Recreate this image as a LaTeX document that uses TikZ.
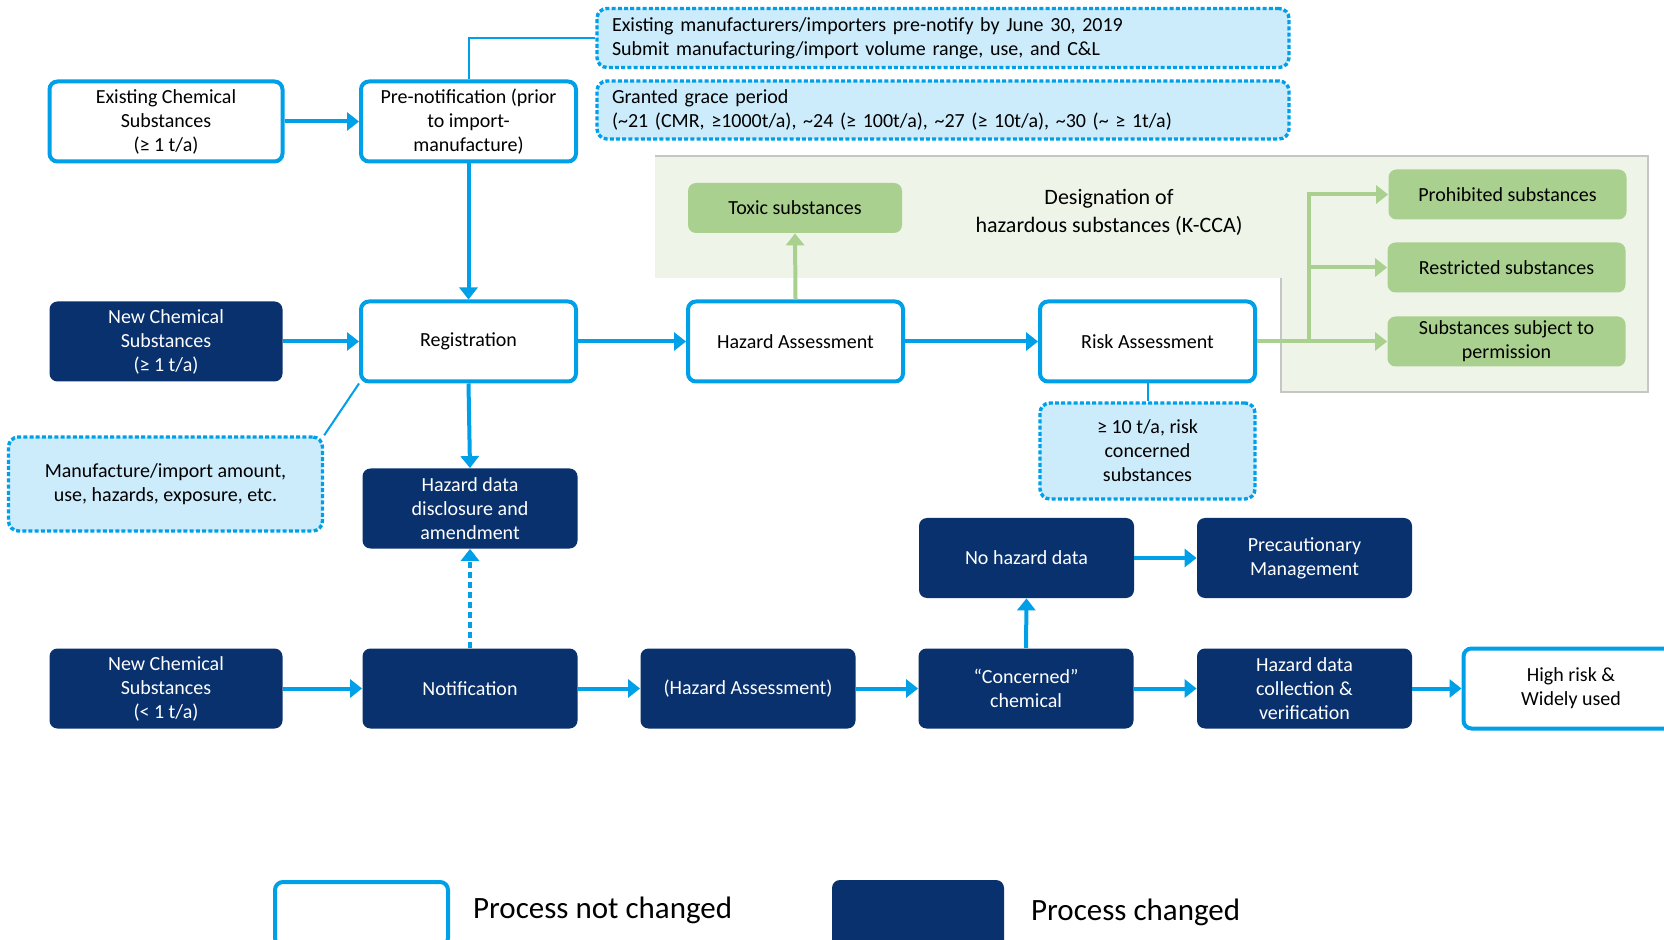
\documentclass[tikz,border=0pt]{standalone}
\usepackage{fontspec}
\setmainfont{Carlito}
\usetikzlibrary{arrows.meta}
\definecolor{cblue}{RGB}{0,160,233}
\definecolor{cnavy}{RGB}{8,49,110}
\definecolor{cnote}{RGB}{204,235,251}
\definecolor{cgreen}{RGB}{169,208,142}
\definecolor{cpale}{RGB}{238,245,232}
\begin{document}
\begin{tikzpicture}[x=0.5pt, y=-0.5pt,
    box/.style={align=center, rounded corners=4pt, minimum width=107.5pt, minimum height=40pt, inner sep=2pt},
    plain/.style={box, draw=cblue, line width=2pt, fill=white},
    dark/.style={box, fill=cnavy, text=white},
    gbox/.style={box, fill=cgreen, minimum width=119pt, minimum height=25pt},
    note/.style={draw=cblue, fill=cnote, line width=1.7pt, dash pattern=on 2pt off 1.1pt, rounded corners=5pt, align=center},
    arr/.style={draw=cblue, line width=2pt, -{Triangle[length=6pt, width=9pt]}},
    garr/.style={draw=cgreen, line width=2pt, -{Triangle[length=6pt, width=9pt]}},
    thin/.style={draw=cblue, line width=1pt}]
  \useasboundingbox (0,0) rectangle (1664,940);
  \fill[cpale] (655,156) -- (1648,156) -- (1648,392) -- (1281,392) -- (1281,278) -- (655,278) -- cycle;
  \draw[gray!45, line width=0.6pt] (655,156) -- (1648,156) -- (1648,392) -- (1281,392) -- (1281,278);

  \node[plain, minimum width=116.5pt] (ex) at (166,121.5) {Existing Chemical\\Substances\\(≥ 1 t/a)};
  \node[plain] (pre) at (468.5,121.5) {Pre-notification (prior\\to import-\\manufacture)};
  \node[note, align=left, text width=331pt, inner xsep=7.5pt, minimum height=29.5pt] (n1) at (943,38)
    {Existing manufacturers/importers pre-notify by June 30, 2019\\Submit manufacturing/import volume range, use, and C\&L};
  \node[note, align=left, text width=331pt, inner xsep=7.5pt, minimum height=29pt] (n2) at (943,110)
    {Granted grace period\\(\textasciitilde21 (CMR, ≥1000t/a), \textasciitilde24 (≥ 100t/a), \textasciitilde27 (≥ 10t/a), \textasciitilde30 (\textasciitilde\ ≥ 1t/a)};

  \node[gbox, minimum width=107pt] (tox) at (795,208) {Toxic substances};
  \node[font=\fontsize{11}{14}\selectfont, align=center] (des) at (1109,212) {Designation of\\hazardous substances (K-CCA)};
  \node[gbox] (pro) at (1507.5,194.5) {Prohibited substances};
  \node[gbox] (res) at (1506.5,267.5) {Restricted substances};
  \node[gbox] (per) at (1506.5,341.5) {Substances subject to\\permission};

  \node[dark, minimum width=116.5pt] (nc1) at (166,341.5) {New Chemical\\Substances\\(≥ 1 t/a)};
  \node[plain] (reg) at (468.5,341.5) {Registration};
  \node[plain] (ha) at (795.5,341.5) {Hazard Assessment};
  \node[plain] (ra) at (1147.5,341.5) {Risk Assessment};
  \node[note, minimum width=157pt, minimum height=47pt] (n3) at (165.5,484) {Manufacture/import amount,\\use, hazards, exposure, etc.};
  \node[dark] (dis) at (470,508.5) {Hazard data\\disclosure and\\amendment};
  \node[note, minimum width=107.5pt, minimum height=48pt] (n4) at (1147.5,451) {≥ 10 t/a, risk\\concerned\\substances};

  \node[dark] (nhd) at (1026.5,558) {No hazard data};
  \node[dark] (pm) at (1304.5,558) {Precautionary\\Management};
  \node[dark, minimum width=116.5pt] (nc2) at (166,688.5) {New Chemical\\Substances\\(< 1 t/a)};
  \node[dark] (not) at (470,688.5) {Notification};
  \node[dark] (hab) at (748,688.5) {(Hazard Assessment)};
  \node[dark] (con) at (1026,688.5) {“Concerned”\\chemical};
  \node[dark] (hdc) at (1304.5,688.5) {Hazard data\\collection \&\\verification};
  \node[plain] (hr) at (1571,688.5) {High risk \&\\Widely used};

  \draw[thin] (pre.north) |- (n1.west);
  \draw[thin] (n3.north east) -- (reg.south west);
  \draw[thin] (ra.south) -- (n4.north);
  \draw[arr] (ex) -- (pre);
  \draw[arr] (pre) -- (reg);
  \draw[arr] (nc1) -- (reg);
  \draw[arr] (reg) -- (ha);
  \draw[arr] (ha) -- (ra);
  \draw[arr] (reg.south) -- (dis.north);
  \draw[arr, dash pattern=on 3pt off 2pt] (not) -- (dis);
  \draw[arr] (nc2) -- (not);
  \draw[arr] (not) -- (hab);
  \draw[arr] (hab) -- (con);
  \draw[arr] (con) -- (hdc);
  \draw[arr] (hdc) -- (hr);
  \draw[arr] (con.north) -- (nhd.south);
  \draw[arr] (nhd) -- (pm);
  \draw[garr] (ha.north) -- (tox.south);
  \coordinate (sp) at (1308.5,341.5);
  \draw[garr] (ra.east) -- (per.west);
  \draw[garr] (sp) |- (pro.west);
  \draw[garr] (sp |- res.west) -- (res.west);

  \node[plain, minimum width=86.5pt, minimum height=32pt] (lg1) at (361.5,914) {};
  \node[dark, minimum width=86pt, minimum height=34pt] (lg2) at (918,914) {};
  \node[anchor=west, font=\fontsize{15.5}{18}\selectfont] (t1) at (466,910) {Process not changed};
  \node[anchor=west, font=\fontsize{15.5}{18}\selectfont] (t2) at (1024,912) {Process changed};
\end{tikzpicture}
\end{document}
